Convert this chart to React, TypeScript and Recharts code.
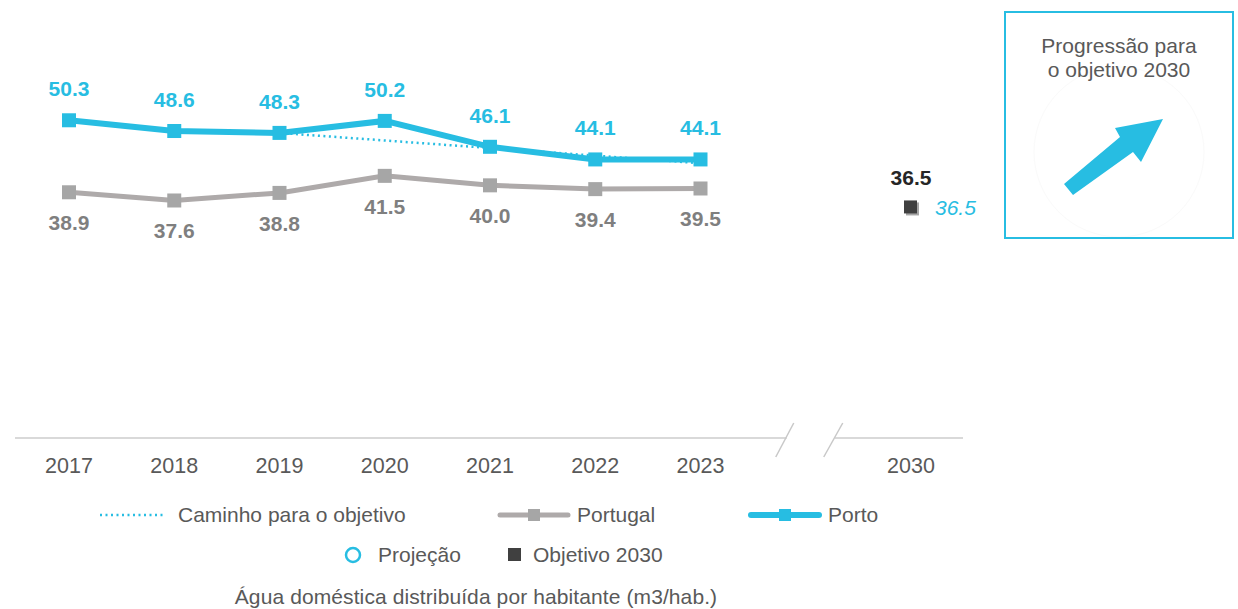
import React from 'react';
import {
  ComposedChart,
  Line,
  XAxis,
  YAxis,
  LabelList,
  ReferenceDot,
} from 'recharts';

const FONT = '"Liberation Sans", Arial, sans-serif';
const CYAN = '#27bde2';
const GREY_LINE = '#aeaaaa';
const GREY_MARK = '#a6a6a6';
const GREY_TEXT = '#7f7f7f';
const DARK = '#404040';
const TEXT = '#595959';

// categories: 'gap' is the empty slot before 2030 (axis break)
const years = ['2017', '2018', '2019', '2020', '2021', '2022', '2023', 'gap', '2030'];
const porto = [50.3, 48.6, 48.3, 50.2, 46.1, 44.1, 44.1, null, null];
const portugal = [38.9, 37.6, 38.8, 41.5, 40.0, 39.4, 39.5, null, null];
const caminho = [null, null, 48.3, 47.1, 45.9, 44.7, 43.5, null, null];
const projecao = [null, null, null, null, null, null, null, null, 36.5];
const objetivo = [null, null, null, null, null, null, null, null, 36.5];

const data = years.map((year, i) => ({
  year,
  porto: porto[i],
  portugal: portugal[i],
  caminho: caminho[i],
  projecao: projecao[i],
  objetivo: objetivo[i],
}));

const fmt = (v: any) => (v == null ? '' : Number(v).toFixed(1));

const squareDot = (fill: string, size: number) => (props: any) => {
  const { cx, cy, value, index } = props;
  if (cx == null || cy == null || value == null) return <g key={`e-${index}`} />;
  return (
    <rect
      key={`d-${index}`}
      x={cx - size / 2}
      y={cy - size / 2}
      width={size}
      height={size}
      fill={fill}
    />
  );
};

const goalDot = (props: any) => {
  const { cx, cy, value, index } = props;
  if (cx == null || cy == null || value == null) return <g key={`e-${index}`} />;
  return (
    <g key={`g-${index}`}>
      <rect x={cx - 5} y={cy - 5} width={13} height={13} fill="#a6a6a6" />
      <rect x={cx - 7} y={cy - 7} width={13} height={13} fill={DARK} />
    </g>
  );
};

// white gap + two slashes on the x axis line
const AxisBreak = (props: any) => {
  const { cx, cy } = props;
  if (cx == null || cy == null) return <g />;
  return (
    <g>
      <rect x={cx - 19} y={cy - 3} width={48} height={6} fill="#fff" />
      <line x1={cx - 30} y1={cy + 19} x2={cx - 12} y2={cy - 15} stroke="#c8c8c8" strokeWidth={1.5} />
      <line x1={cx + 18} y1={cy + 19} x2={cx + 37} y2={cy - 15} stroke="#c8c8c8" strokeWidth={1.5} />
    </g>
  );
};

const legendText: React.CSSProperties = {
  fontFamily: FONT,
  fontSize: 21,
  color: TEXT,
  whiteSpace: 'nowrap',
};

export default function App() {
  return (
    <div
      style={{
        position: 'absolute',
        left: 0,
        top: 0,
        width: 1238,
        height: 609,
        background: '#fff',
        overflow: 'hidden',
      }}
    >
      <div style={{ position: 'absolute', left: 0, top: 0 }}>
        <ComposedChart
          width={980}
          height={500}
          data={data}
          margin={{ top: 59, right: 17, left: 15, bottom: 22 }}
          style={{ fontFamily: FONT }}
        >
          <XAxis
            dataKey="year"
            axisLine={{ stroke: '#d9d9d9', strokeWidth: 2 }}
            tickLine={false}
            tickMargin={14}
            height={40}
            interval={0}
            padding={{ left: 54, right: 52 }}
            tick={{ fill: TEXT, fontSize: 21.5 }}
            tickFormatter={(v: string) => (v === 'gap' ? '' : v)}
          />
          <YAxis hide domain={[0, 60]} />
          <Line
            dataKey="portugal"
            stroke={GREY_LINE}
            strokeWidth={5}
            dot={squareDot(GREY_MARK, 14)}
            activeDot={false}
            isAnimationActive={false}
          >
            <LabelList
              dataKey="portugal"
              position="bottom"
              offset={23}
              formatter={fmt}
              style={{ fill: GREY_TEXT, fontSize: 21, fontWeight: 700 }}
            />
          </Line>
          <Line
            dataKey="caminho"
            stroke={CYAN}
            strokeWidth={2.5}
            strokeDasharray="2 3.5"
            dot={false}
            activeDot={false}
            isAnimationActive={false}
          />
          <Line
            dataKey="porto"
            stroke={CYAN}
            strokeWidth={6}
            dot={squareDot(CYAN, 14)}
            activeDot={false}
            isAnimationActive={false}
          >
            <LabelList
              dataKey="porto"
              position="top"
              offset={24}
              formatter={fmt}
              style={{ fill: CYAN, fontSize: 21, fontWeight: 700 }}
            />
          </Line>
          <Line
            dataKey="projecao"
            stroke="none"
            dot={false}
            activeDot={false}
            isAnimationActive={false}
          >
            <LabelList
              dataKey="projecao"
              position="right"
              offset={24}
              formatter={fmt}
              style={{ fill: CYAN, fontSize: 21, fontStyle: 'italic' }}
            />
          </Line>
          <Line
            dataKey="objetivo"
            stroke="none"
            dot={goalDot}
            activeDot={false}
            isAnimationActive={false}
          >
            <LabelList
              dataKey="objetivo"
              position="top"
              offset={22}
              formatter={fmt}
              style={{ fill: '#262626', fontSize: 21, fontWeight: 700 }}
            />
          </Line>
          <ReferenceDot x="gap" y={0} shape={AxisBreak} />
        </ComposedChart>
      </div>

      {/* legend row 1 */}
      <div style={{ position: 'absolute', left: 100, top: 502, display: 'flex', alignItems: 'center', height: 26 }}>
        <div style={{ display: 'flex', alignItems: 'center', width: 397 }}>
          <svg width={64} height={10}>
            <line x1={0} y1={5} x2={64} y2={5} stroke={CYAN} strokeWidth={2.5} strokeDasharray="2 3.5" />
          </svg>
          <span style={{ ...legendText, marginLeft: 14 }}>Caminho para o objetivo</span>
        </div>
        <div style={{ display: 'flex', alignItems: 'center', width: 251 }}>
          <svg width={74} height={14}>
            <line x1={3} y1={7} x2={71} y2={7} stroke={GREY_LINE} strokeWidth={5} strokeLinecap="round" />
            <rect x={31} y={1} width={12} height={12} fill={GREY_MARK} />
          </svg>
          <span style={{ ...legendText, marginLeft: 6 }}>Portugal</span>
        </div>
        <div style={{ display: 'flex', alignItems: 'center' }}>
          <svg width={74} height={14}>
            <line x1={3} y1={7} x2={71} y2={7} stroke={CYAN} strokeWidth={6} strokeLinecap="round" />
            <rect x={31} y={1} width={12} height={12} fill={CYAN} />
          </svg>
          <span style={{ ...legendText, marginLeft: 6 }}>Porto</span>
        </div>
      </div>

      {/* legend row 2 */}
      <div style={{ position: 'absolute', left: 344, top: 542, display: 'flex', alignItems: 'center', height: 26 }}>
        <div style={{ display: 'flex', alignItems: 'center', width: 164 }}>
          <svg width={18} height={18}>
            <circle cx={9} cy={9} r={7} fill="none" stroke={CYAN} strokeWidth={2.5} />
          </svg>
          <span style={{ ...legendText, marginLeft: 16 }}>Projeção</span>
        </div>
        <div style={{ display: 'flex', alignItems: 'center' }}>
          <svg width={14} height={14}>
            <rect x={0} y={0} width={13} height={13} fill={DARK} />
          </svg>
          <span style={{ ...legendText, marginLeft: 11 }}>Objetivo 2030</span>
        </div>
      </div>

      {/* axis title */}
      <div
        style={{
          position: 'absolute',
          left: 0,
          width: 952,
          top: 585,
          textAlign: 'center',
          ...legendText,
          letterSpacing: 0.1,
        }}
      >
        Água doméstica distribuída por habitante (m3/hab.)
      </div>

      {/* progress box */}
      <svg style={{ position: 'absolute', left: 0, top: 0 }} width={1238} height={609} pointerEvents="none">
        <circle cx={1119} cy={152} r={85} fill="none" stroke="#fafafa" strokeWidth={1} />
        <polygon
          points="1064,184 1120,137 1115,128 1163,119 1141,162 1133,152 1073,195"
          fill={CYAN}
        />
      </svg>
      <div
        style={{
          position: 'absolute',
          left: 1004,
          top: 11,
          width: 226,
          height: 224,
          border: `2px solid ${CYAN}`,
        }}
      >
        <div
          style={{
            marginTop: 21,
            textAlign: 'center',
            fontFamily: FONT,
            fontSize: 21,
            lineHeight: '24px',
            color: TEXT,
          }}
        >
          Progressão para
          <br />
          o objetivo 2030
        </div>
      </div>
    </div>
  );
}
